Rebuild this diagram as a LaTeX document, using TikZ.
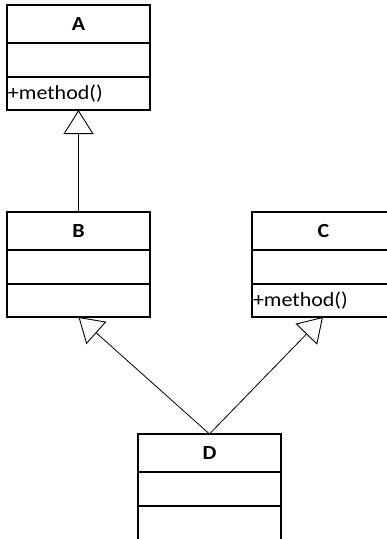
\documentclass[tikz,border=0pt]{standalone}
\usepackage{fontspec}
\usepackage{graphicx}
\setmainfont{Carlito}
\usetikzlibrary{arrows.meta}
\newcommand{\wide}[1]{\scalebox{1.1}[1]{#1}}
\begin{document}
\begin{tikzpicture}[x=1pt,y=1pt,
  comp/.style={draw, line width=1.3pt, minimum width=143pt, inner xsep=1pt, inner ysep=0pt,
    outer sep=0pt, anchor=north west, font=\fontsize{20}{22}\selectfont},
  title/.style={comp, minimum height=38pt, align=center, text width=141pt},
  attr/.style={comp, minimum height=34pt},
  oper/.style={comp, minimum height=33pt, align=left, text width=141pt},
  wider/.style={minimum width=200pt, text width=198pt, align=left},
  inh/.style={line width=0.8pt, -{Triangle[open, length=24pt, width=30pt, line width=0.9pt]}}
]
\useasboundingbox (0,0) rectangle (387,-539);
\clip (0,0) rectangle (387,-539);

% class A
\node[title] (At) at (7,-5) {\wide{\textbf{A}}};
\node[attr] (Am) at (At.south west) {};
\node[oper] (Ab) at (Am.south west) {\wide{+method()}};

% class B
\node[title] (Bt) at (7,-212) {\wide{\textbf{B}}};
\node[attr] (Bm) at (Bt.south west) {};
\node[oper] (Bb) at (Bm.south west) {};

% class C (its right edge lies outside the picture)
\node[title, wider] (Ct) at (252,-212) {\makebox[141pt][c]{\wide{\textbf{C}}}};
\node[attr, wider] (Cm) at (Ct.south west) {};
\node[oper, wider] (Cb) at (Cm.south west) {\wide{+method()}};
\coordinate (Ctip) at ([xshift=71pt]Cb.south west);

% class D (its bottom edge lies outside the picture)
\node[title] (Dt) at (138,-434) {\wide{\textbf{D}}};
\node[attr] (Dm) at (Dt.south west) {};
\node[oper, minimum height=45pt] (Db) at (Dm.south west) {};

% generalisations
\draw[inh] (Bt.north) -- (Ab.south);
\draw[inh] (Dt.north) -- (Bb.south);
\draw[inh] (Dt.north) -- (Ctip);
\end{tikzpicture}
\end{document}
